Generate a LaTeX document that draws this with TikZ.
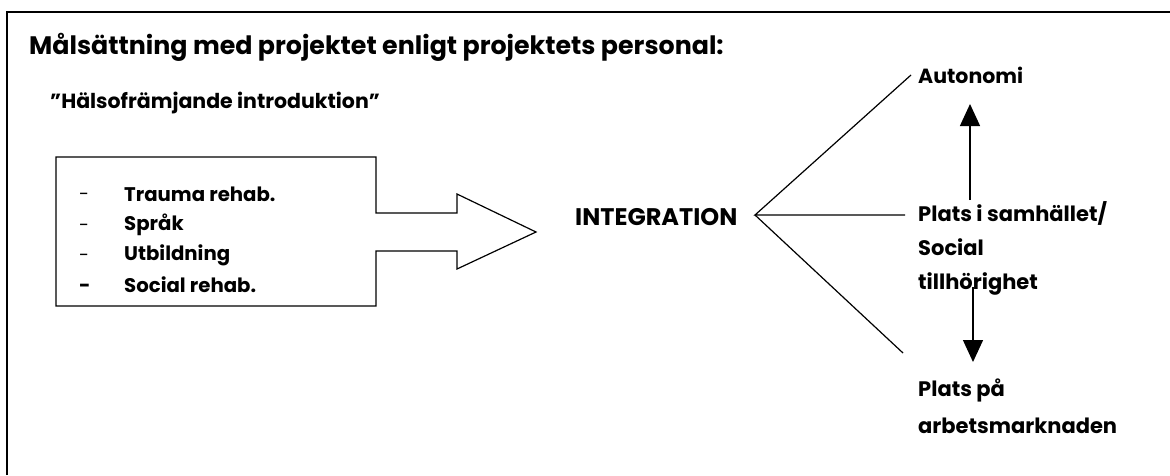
\documentclass[tikz,border=0pt]{standalone}
\usepackage{fontspec}
\setmainfont{Poppins}
\usetikzlibrary{arrows.meta}
\newcommand{\fs}[2]{\bfseries\fontsize{#1}{#2}\selectfont}
\tikzset{
  frame/.style={line width=2.5pt},
  thin/.style={line width=1.2pt},
  label/.style={inner sep=0pt, anchor=west, font=\fs{20}{24}},
  item/.style={label, font=\fs{19.7}{23}},
  dashmark/.style={label, font=\mdseries\fontsize{18}{22}\selectfont},
  stack/.style={inner sep=0pt, anchor=north west, align=left},
  tip/.style={line width=1.4pt, -{Triangle[width=20pt,length=22pt]}},
}
\begin{document}
\begin{tikzpicture}[x=1pt,y=-1pt]
\useasboundingbox (0,0) rectangle (1170,475);
% open frame (left and top edges)
\draw[frame] (7,475) -- (7,12) -- (1170,12);

% heading and subheading
\node[label, font=\fs{25.3}{30}] (title) at (29,47) {Målsättning med projektet enligt projektets personal:};
\node[label, font=\fs{20.5}{24}] (halso) at (50,103) {"Hälsofrämjande introduktion"};

% box with the block arrow
\draw[thin] (56,157) -- (376,157) -- (376,213) -- (457,213) -- (457,194)
  -- (536,232) -- (457,269) -- (457,251) -- (376,251) -- (376,306)
  -- (56,306) -- cycle;
\node[item] (i1) at (124,194) {Trauma rehab.};
\node[item] (i2) at (124,225) {Språk};
\node[item] (i3) at (124,255) {Utbildning};
\node[item] (i4) at (124,285) {Social rehab.};
\foreach \n/\yy in {d1/197,d2/228,d3/258}
  \node[dashmark] (\n) at (79,\yy) {-};
\node[item] (d4) at (79,288) {-};

% integration and its three branches
\node[label, font=\fs{24}{28}] (integ) at (575,217) {INTEGRATION};
\coordinate (fork) at (755,215);
\coordinate (up) at (911,75);
\coordinate (mid) at (905,215);
\coordinate (low) at (903,353);
\draw[thin] (up) -- (fork) -- (mid);
\draw[thin] (fork) -- (low);

\node[label, font=\fs{20.5}{24}] (auton) at (918,75) {Autonomi};
\node[stack, font=\fs{21}{34}] (plats) at (918,201) {Plats i samhället/\\Social\\tillhörighet};
\node[stack, font=\fs{21}{37}] (arbete) at (918,379) {Plats på\\arbetsmarknaden};

\coordinate (a1s) at (970,200);
\coordinate (a1e) at (970,104);
\coordinate (a2s) at (973,287);
\coordinate (a2e) at (973,362);
\draw[tip] (a1s) -- (a1e);
\draw[tip] (a2s) -- (a2e);
\end{tikzpicture}
\end{document}
